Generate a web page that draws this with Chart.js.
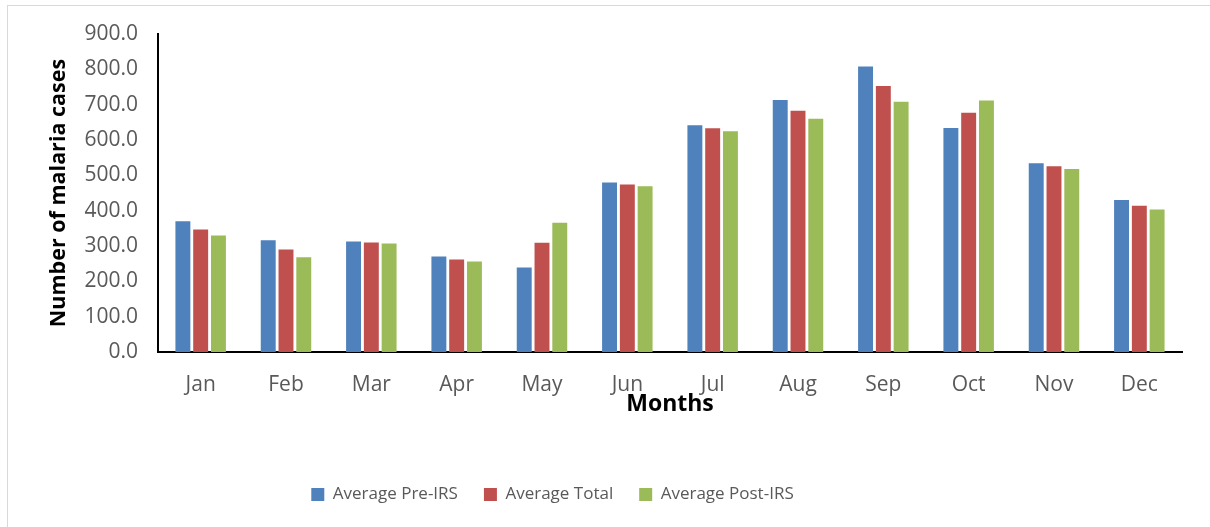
<!DOCTYPE html>
<html>
<head>
<meta charset="utf-8">
<script src="https://cdn.jsdelivr.net/npm/chart.js@4"></script>
<style>
  html, body { margin: 0; padding: 0; background: #fff; }
  #wrap { position: relative; width: 1210px; height: 527px; }
  #frame { position: absolute; left: 7px; top: 5px; width: 1210px; height: 540px;
           border-left: 1px solid #d9d9d9; border-top: 1px solid #d9d9d9; }
  #myChart { position: absolute; left: 0; top: 0; }
</style>
</head>
<body>
<div id="wrap">
  <div id="frame"></div>
  <canvas id="myChart" width="1210" height="527"></canvas>
</div>
<script>
// values
const months = ['Jan', 'Feb', 'Mar', 'Apr', 'May', 'Jun', 'Jul', 'Aug', 'Sep', 'Oct', 'Nov', 'Dec'];
const preIRS = [370, 316, 313, 270, 239, 480, 642, 713, 808, 634, 534, 430];
const total = [347, 290, 310, 262, 309, 474, 633, 683, 753, 677, 526, 414];
const postIRS = [330, 268, 307, 256, 366, 469, 625, 660, 708, 712, 518, 403];
const seriesNames = ['Average Pre-IRS', 'Average Total', 'Average Post-IRS'];

const FONT = "'Open Sans', 'Noto Sans', sans-serif";
const txt = '#595959';

const ctx = document.getElementById('myChart');

function barSet(label, data, color) {
  return {
    label: label,
    data: data,
    backgroundColor: color,
    borderColor: color,
    borderWidth: 0,
    categoryPercentage: 0.625,
    barPercentage: 0.84
  };
}

// legend in the original sits a bit left of centre
const legendShift = {
  id: 'legendShift',
  beforeDraw(chart) {
    const lg = chart.legend;
    lg.left -= 42;
    lg.right -= 42;
  }
};

new Chart(ctx, {
  type: 'bar',
  data: {
    labels: months,
    datasets: [
      barSet(seriesNames[0], preIRS, '#4F81BD'),
      barSet(seriesNames[1], total, '#C0504D'),
      barSet(seriesNames[2], postIRS, '#9BBB59')
    ]
  },
  plugins: [legendShift],
  options: {
    responsive: false,
    animation: false,
    layout: { padding: { left: 7, right: 28, top: 34, bottom: 14 } },
    plugins: {
      tooltip: { enabled: false },
      legend: {
        position: 'bottom',
        labels: {
          boxWidth: 13,
          boxHeight: 13,
          padding: 26,
          color: txt,
          font: { family: FONT, size: 17 }
        }
      }
    },
    scales: {
      x: {
        grid: { display: false, drawTicks: false },
        border: { color: '#000', width: 2 },
        ticks: { color: txt, padding: 20, font: { family: FONT, size: 21 } },
        title: {
          display: true,
          text: 'Months',
          color: '#000',
          font: { family: FONT, size: 23, weight: 'bold' },
          padding: { top: 0, bottom: 42 }
        },
        afterFit: (scale) => { scale.height = 108; }
      },
      y: {
        min: 0,
        max: 900,
        grid: { display: false, drawTicks: false },
        border: { color: '#000', width: 2 },
        ticks: {
          stepSize: 100,
          color: txt,
          padding: 20,
          font: { family: FONT, size: 21 },
          callback: (v) => v.toFixed(1)
        },
        title: {
          display: true,
          text: 'Number of malaria cases',
          color: '#000',
          font: { family: FONT, size: 21.5, weight: 'bold' },
          padding: { top: 39, bottom: 0 }
        },
        afterFit: (scale) => { scale.width = 151; }
      }
    }
  }
});
</script>
</body>
</html>
